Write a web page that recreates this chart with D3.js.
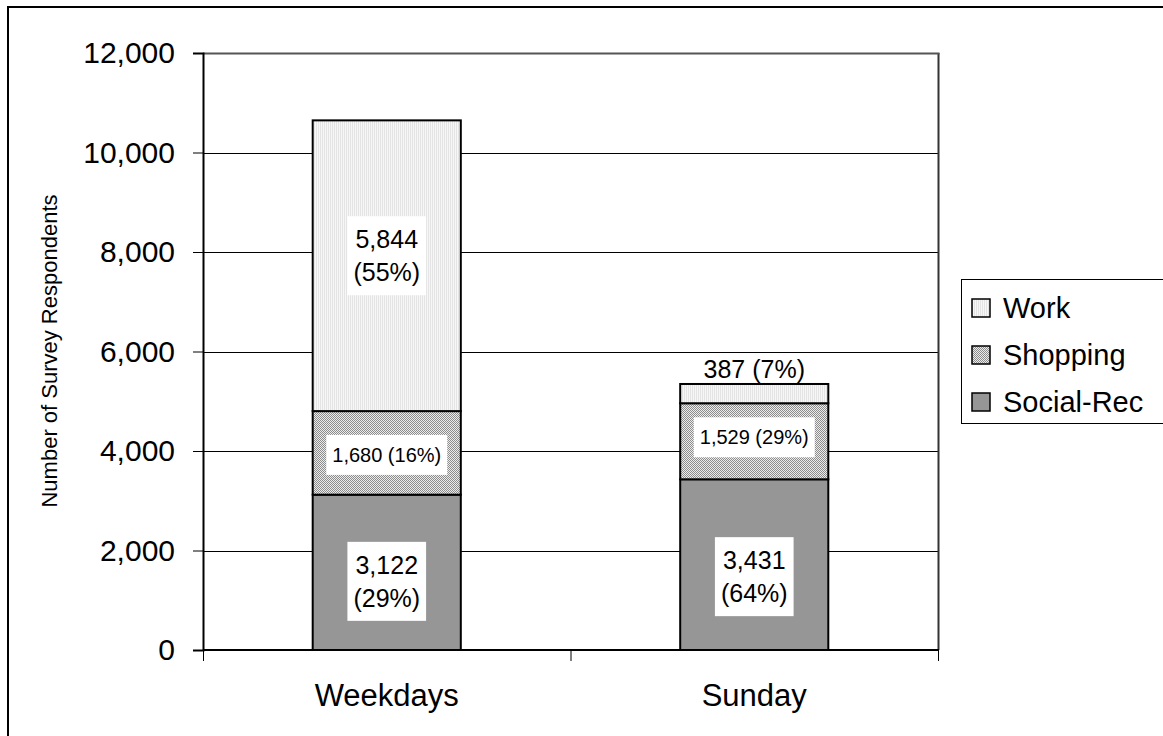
<!DOCTYPE html>
<html><head><meta charset="utf-8">
<script src="https://cdn.jsdelivr.net/npm/d3@7"></script>
<style>
html,body{margin:0;padding:0;background:#fff;}
svg{display:block;font-family:"Liberation Sans",Arial,sans-serif;}
</style></head>
<body>
<svg id="chart" width="1163" height="736"></svg>
<script>
const categories = ["Weekdays", "Sunday"];
const seriesNames = ["Social-Rec", "Shopping", "Work"];
const socialRec = [3122, 3431];
const shopping = [1680, 1529];
const work = [5844, 387];
const yTicks = [0, 2000, 4000, 6000, 8000, 10000, 12000];
const legendOrder = ["Work", "Shopping", "Social-Rec"];
const yTitle = "Number of Survey Respondents";

(function(){
const svg = d3.select("#chart");
const defs = svg.append("defs");

// patterns
const pw = defs.append("pattern").attr("id","pWork").attr("patternUnits","userSpaceOnUse").attr("width",2).attr("height",2);
pw.append("rect").attr("width",2).attr("height",2).attr("fill","#f7f7f7");
pw.append("rect").attr("width",1).attr("height",2).attr("fill","#e4e4e4");
const ps = defs.append("pattern").attr("id","pShop").attr("patternUnits","userSpaceOnUse").attr("width",2).attr("height",2);
ps.append("rect").attr("width",2).attr("height",2).attr("fill","#ececec");
ps.append("rect").attr("width",1).attr("height",1).attr("fill","#8c8c8c");
ps.append("rect").attr("x",1).attr("y",1).attr("width",1).attr("height",1).attr("fill","#8c8c8c");

const fills = {"Work":"url(#pWork)","Shopping":"url(#pShop)","Social-Rec":"#969696"};
const seriesData = {"Social-Rec":socialRec,"Shopping":shopping,"Work":work};
// manual label nudges (px), as the labels were adjusted in the original
const nudge = {"Weekdays|Work":-10,"Weekdays|Shopping":2,"Weekdays|Social-Rec":9,
               "Sunday|Shopping":-4,"Sunday|Social-Rec":12};

// outer border
svg.append("rect").attr("x",8).attr("y",7).attr("width",1300).attr("height",900)
  .attr("fill","none").attr("stroke","#000").attr("stroke-width",2);

const pLeft = 203, pRight = 938, pTop = 53, pBottom = 650;
const y = d3.scaleLinear().domain([0,12000]).range([pBottom, pTop]);
const x = d3.scaleBand().domain(categories).range([pLeft, pRight]).padding(0);
const barW = x.bandwidth() * 0.403;

// gridlines
svg.append("g").selectAll("line").data(yTicks.filter(d=>d>0)).join("line")
  .attr("x1",pLeft).attr("x2",pRight)
  .attr("y1",d=>Math.round(y(d))+0.5).attr("y2",d=>Math.round(y(d))+0.5)
  .attr("stroke","#000").attr("stroke-width",1);
// plot area right/top border
svg.append("line").attr("x1",pRight+0.5).attr("x2",pRight+0.5).attr("y1",pTop).attr("y2",pBottom)
  .attr("stroke","#333").attr("stroke-width",2);
svg.append("line").attr("x1",pLeft).attr("x2",pRight+1.5).attr("y1",pTop+0.5).attr("y2",pTop+0.5)
  .attr("stroke","#555").attr("stroke-width",2);

// y axis
const yAxis = d3.axisLeft(y).tickValues(yTicks).tickFormat(d3.format(",")).tickSize(10).tickPadding(18);
const gy = svg.append("g").attr("transform",`translate(${pLeft},0)`).call(yAxis);
gy.attr("font-family",null).attr("font-size",null);
gy.select(".domain").attr("stroke","#000").attr("stroke-width",2);
gy.selectAll(".tick line").attr("stroke","#000").attr("stroke-width",1);
gy.selectAll(".tick text").attr("font-size",30).attr("fill","#000");

// x axis: ticks at category boundaries
const xAxisG = svg.append("g");
xAxisG.append("line").attr("x1",pLeft).attr("x2",pRight+1).attr("y1",pBottom).attr("y2",pBottom)
  .attr("stroke","#000").attr("stroke-width",2);
const bounds = [pLeft].concat(categories.map(c => x(c) + x.bandwidth()));
xAxisG.selectAll("line.tk").data(bounds).join("line").attr("class","tk")
  .attr("x1",d=>d+0.5).attr("x2",d=>d+0.5).attr("y1",pBottom).attr("y2",pBottom+11)
  .attr("stroke","#000").attr("stroke-width",1);
xAxisG.selectAll("text").data(categories).join("text")
  .attr("x",d=>x(d)+x.bandwidth()/2).attr("y",706)
  .attr("text-anchor","middle").attr("font-size",31).attr("fill","#000").text(d=>d);

// stacked bars
const stackInput = categories.map((c,i)=>{
  const o = {cat:c};
  seriesNames.forEach(s=>o[s]=seriesData[s][i]);
  return o;
});
const stacked = d3.stack().keys(seriesNames)(stackInput);
const totals = categories.map((c,i)=>seriesNames.reduce((a,s)=>a+seriesData[s][i],0));
const fmt = d3.format(",");

const barsG = svg.append("g");
stacked.forEach(layer=>{
  barsG.append("g").selectAll("rect").data(layer).join("rect")
    .attr("x",d=>x(d.data.cat)+x.bandwidth()/2-barW/2)
    .attr("width",barW)
    .attr("y",d=>y(d[1]))
    .attr("height",d=>y(d[0])-y(d[1]))
    .attr("fill",fills[layer.key])
    .attr("stroke","#000").attr("stroke-width",2);
});

// labels
const labelsG = svg.append("g");
stacked.forEach(layer=>{
  layer.forEach((d,i)=>{
    const v = d[1]-d[0];
    const pct = Math.round(v/totals[i]*100);
    const cx = x(d.data.cat)+x.bandwidth()/2;
    const h = y(d[0])-y(d[1]);
    const small = h < 40;
    const oneLine = layer.key === "Shopping" || small;
    const fs = layer.key === "Shopping" ? 20 : 25;
    const lines = oneLine ? [`${fmt(v)} (${pct}%)`] : [fmt(v), `(${pct}%)`];
    const lh = 33;
    const nd = nudge[d.data.cat + "|" + layer.key] || 0;
    const cy = (small ? y(d[1]) - 15 : (y(d[0])+y(d[1]))/2) + nd;
    const g = labelsG.append("g");
    const t = g.append("text").attr("text-anchor","middle").attr("font-size",fs).attr("fill","#000");
    lines.forEach((ln,k)=>{
      t.append("tspan").attr("x",cx)
        .attr("y", cy + (k - (lines.length-1)/2)*lh)
        .attr("dominant-baseline","central").text(ln);
    });
    if(!small){
      const bb = t.node().getBBox();
      g.insert("rect","text").attr("x",bb.x-6).attr("y",bb.y-9)
        .attr("width",bb.width+12).attr("height",bb.height+18).attr("fill","#fff");
    }
  });
});

// y title
svg.append("text").attr("transform","translate(57,351) rotate(-90)")
  .attr("text-anchor","middle").attr("font-size",22).attr("fill","#000").text(yTitle);

// legend
const lg = svg.append("g");
lg.append("rect").attr("x",961.5).attr("y",279.5).attr("width",260).attr("height",144)
  .attr("fill","#fff").attr("stroke","#000").attr("stroke-width",1);
const ly = d3.scalePoint().domain(legendOrder).range([308,402]);
legendOrder.forEach(s=>{
  lg.append("rect").attr("x",972).attr("y",ly(s)-9).attr("width",18).attr("height",18)
    .attr("fill",fills[s]).attr("stroke","#000").attr("stroke-width",1.5);
  lg.append("text").attr("x",1003).attr("y",ly(s)).attr("dominant-baseline","central")
    .attr("font-size",29).attr("fill","#000").text(s);
});
})();
</script>
</body></html>
